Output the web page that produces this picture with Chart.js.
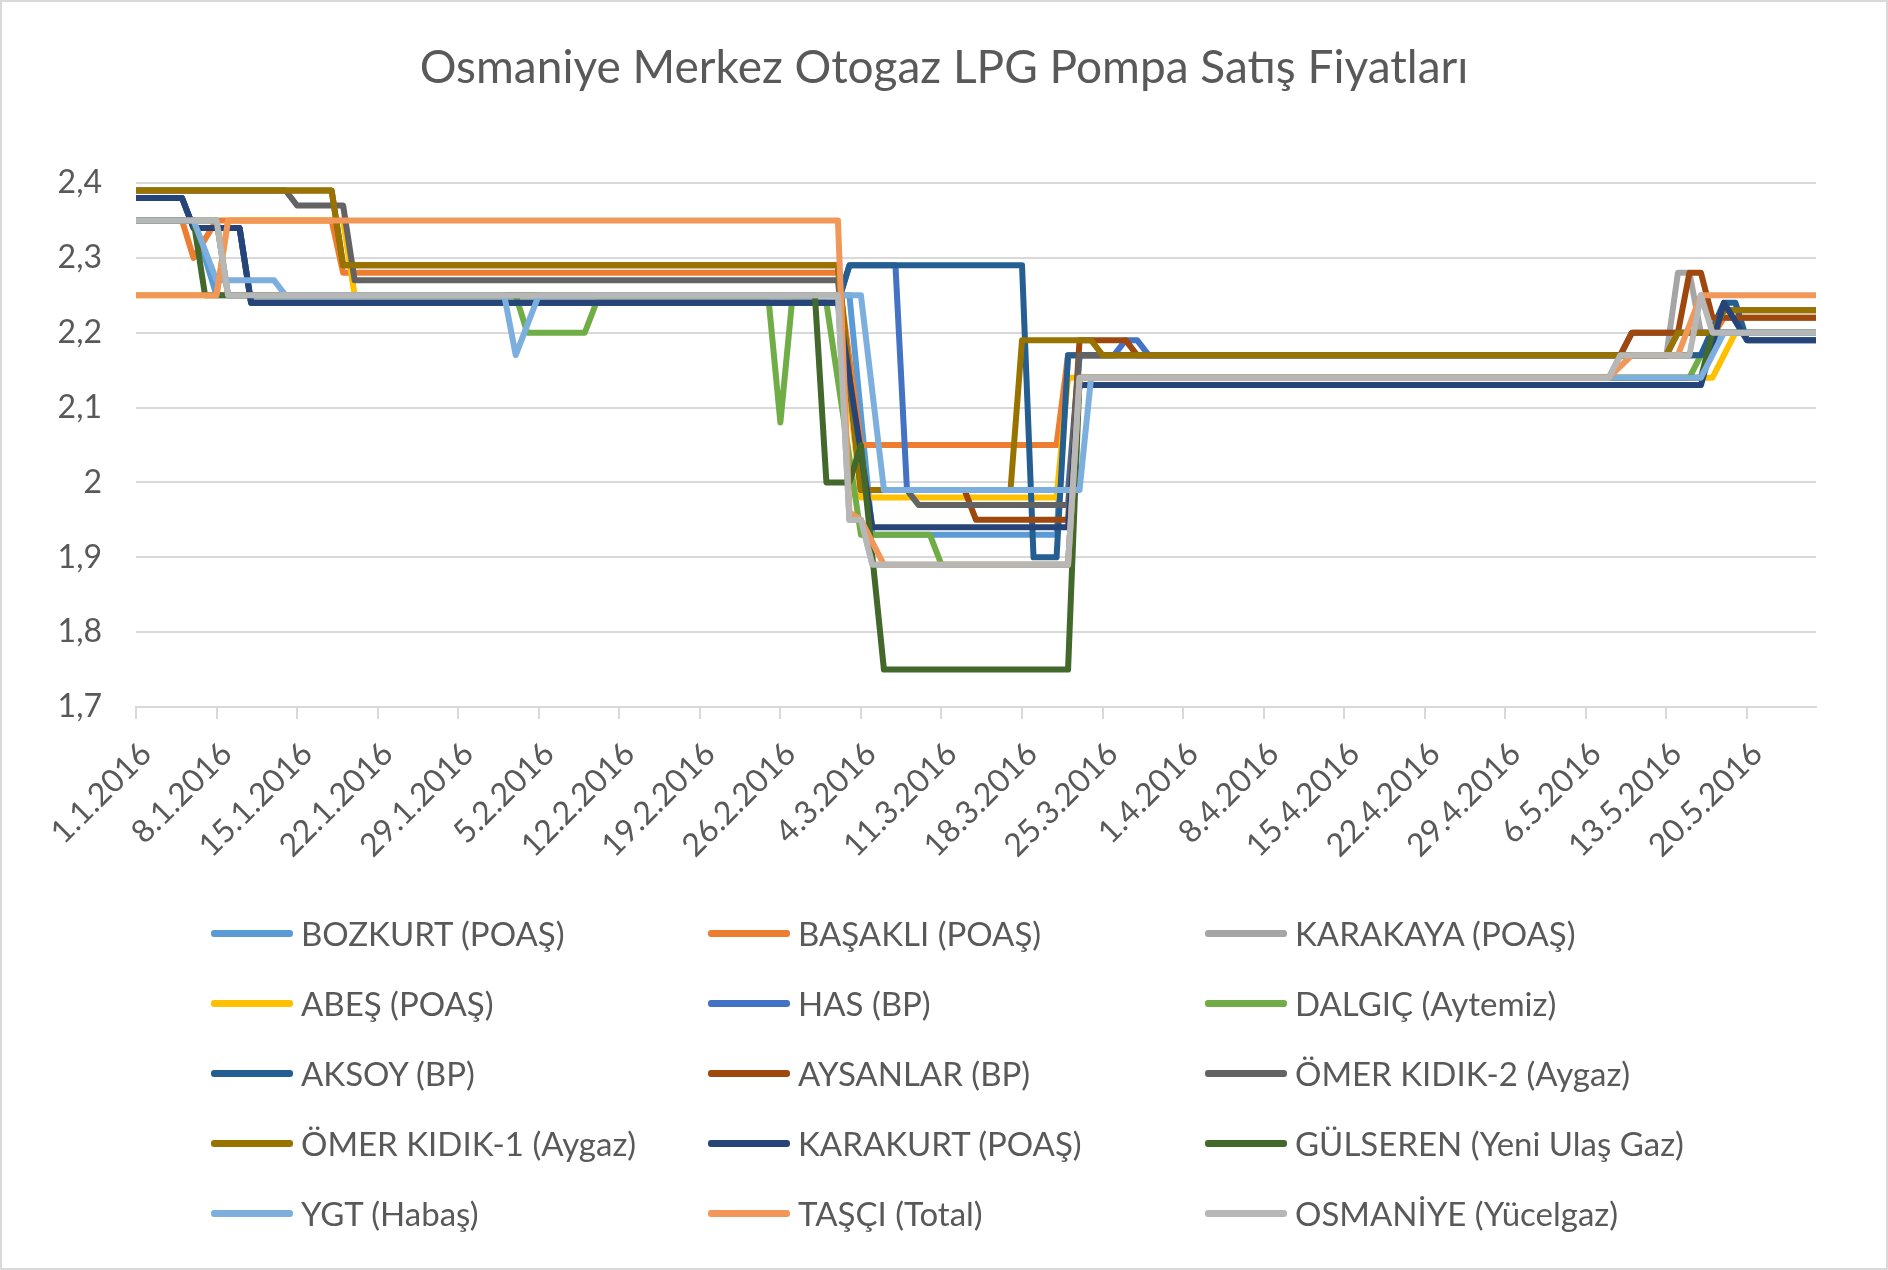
<!DOCTYPE html>
<html>
<head>
<meta charset="utf-8">
<script src="https://cdn.jsdelivr.net/npm/chart.js@4.4.1/dist/chart.umd.min.js"></script>
<style>
  body { margin: 0; background: #fff; }
  #frame { position: relative; width: 1888px; height: 1270px; box-sizing: border-box; border: 2px solid #d9d9d9; overflow: hidden; }
  #chart { position: absolute; left: -2px; top: -2px; }
  #title { position: absolute; left: 0; width: 1884px; top: 36px; text-align: center;
           font-family: Lato, sans-serif; font-size: 46px; color: #595959; }
  .item { position: absolute; height: 40px; display: flex; align-items: center;
          font-family: Lato, sans-serif; font-size: 33px; color: #595959; white-space: nowrap; }
  .swatch { width: 82px; height: 7px; border-radius: 3px; margin-right: 8px; }
</style>
</head>
<body>
<div id="frame">
  <canvas id="chart" width="1888" height="1270"></canvas>
  <div id="title">Osmaniye Merkez Otogaz LPG Pompa Satış Fiyatları</div>
  <div id="legend"></div>
</div>
<script>
// x = day index from 1.1.2016, y = price (TL)
const dateTicks = ['1.1.2016', '8.1.2016', '15.1.2016', '22.1.2016', '29.1.2016', '5.2.2016', '12.2.2016',
  '19.2.2016', '26.2.2016', '4.3.2016', '11.3.2016', '18.3.2016', '25.3.2016', '1.4.2016', '8.4.2016',
  '15.4.2016', '22.4.2016', '29.4.2016', '6.5.2016', '13.5.2016', '20.5.2016'];
const yTicks = ['1,7', '1,8', '1,9', '2', '2,1', '2,2', '2,3', '2,4'];

const names = ['BOZKURT (POAŞ)', 'BAŞAKLI (POAŞ)', 'KARAKAYA (POAŞ)', 'ABEŞ (POAŞ)', 'HAS (BP)',
  'DALGIÇ (Aytemiz)', 'AKSOY (BP)', 'AYSANLAR (BP)', 'ÖMER KIDIK-2 (Aygaz)', 'ÖMER KIDIK-1 (Aygaz)',
  'KARAKURT (POAŞ)', 'GÜLSEREN (Yeni Ulaş Gaz)', 'YGT (Habaş)', 'TAŞÇI (Total)', 'OSMANİYE (Yücelgaz)'];
const colors = ['#5B9BD5', '#ED7D31', '#A5A5A5', '#FFC000', '#4472C4', '#70AD47', '#255E91', '#9E480E',
  '#636363', '#997300', '#264478', '#43682B', '#7CAFDD', '#F1975A', '#B7B7B7'];

// price changes as [day, price] corners
const bozkurt = [[0,2.35],[5,2.35],[7,2.25],[62,2.25],[64,1.93],[80,1.93],[81,2.17],[136,2.17],[138,2.20],[146,2.20]];
const basakli = [[0,2.35],[4,2.35],[5,2.30],[7,2.35],[17,2.35],[18,2.28],[61,2.28],[63,2.05],[80,2.05],[81,2.17],
  [136,2.17],[138,2.22],[146,2.22]];
const karakaya = [[0,2.35],[7,2.35],[8,2.25],[61,2.25],[62,1.95],[63,1.95],[64,1.89],[81,1.89],[82,2.14],[128,2.14],
  [129,2.17],[133,2.17],[134,2.28],[135,2.28],[136,2.20],[146,2.20]];
const abes = [[0,2.25],[7,2.25],[8,2.35],[18,2.35],[19,2.25],[61,2.25],[63,1.98],[80,1.98],[81,2.14],[137,2.14],
  [139,2.20],[146,2.20]];
const has = [[0,2.38],[4,2.38],[5,2.34],[9,2.34],[10,2.24],[61,2.24],[62,2.29],[66,2.29],[67,1.99],[81,1.99],
  [82,2.17],[85,2.17],[86,2.19],[87,2.19],[88,2.17],[129,2.17],[130,2.20],[146,2.20]];
const dalgic = [[0,2.35],[7,2.35],[8,2.25],[33,2.25],[34,2.20],[39,2.20],[40,2.24],[55,2.24],[56,2.08],[57,2.24],
  [60,2.24],[63,1.93],[69,1.93],[70,1.89],[81,1.89],[82,2.14],[135,2.14],[137,2.20],[146,2.20]];
const aksoy = [[0,2.38],[4,2.38],[5,2.34],[9,2.34],[10,2.24],[61,2.24],[62,2.29],[77,2.29],[78,1.90],[80,1.90],
  [81,2.17],[136,2.17],[138,2.24],[139,2.24],[140,2.19],[146,2.19]];
const aysanlar = [[0,2.39],[17,2.39],[18,2.29],[61,2.29],[63,1.99],[72,1.99],[73,1.95],[81,1.95],[82,2.19],[86,2.19],
  [87,2.17],[129,2.17],[130,2.20],[134,2.20],[135,2.28],[136,2.28],[137,2.22],[146,2.22]];
const kidik2 = [[0,2.39],[13,2.39],[14,2.37],[18,2.37],[19,2.27],[61,2.27],[63,1.99],[67,1.99],[68,1.97],[81,1.97],
  [82,2.17],[133,2.17],[134,2.20],[137,2.20],[138,2.23],[146,2.23]];
const kidik1 = [[0,2.39],[17,2.39],[18,2.29],[61,2.29],[63,1.99],[76,1.99],[77,2.19],[83,2.19],[84,2.17],[133,2.17],
  [134,2.20],[137,2.20],[138,2.23],[146,2.23]];
const karakurt = [[0,2.38],[4,2.38],[5,2.34],[9,2.34],[10,2.24],[61,2.24],[64,1.94],[81,1.94],[82,2.13],[136,2.13],
  [138,2.24],[140,2.19],[146,2.19]];
const gulseren = [[0,2.35],[5,2.35],[6,2.25],[59,2.25],[60,2.00],[62,2.00],[63,2.05],[65,1.75],[81,1.75],[82,2.14],
  [136,2.14],[137,2.20],[146,2.20]];
const ygt = [[0,2.35],[5,2.35],[7,2.27],[12,2.27],[13,2.25],[32,2.25],[33,2.17],[35,2.25],[63,2.25],[65,1.99],
  [82,1.99],[83,2.14],[136,2.14],[138,2.20],[146,2.20]];
const tasci = [[0,2.25],[7,2.25],[8,2.35],[61,2.35],[62,1.96],[63,1.95],[65,1.89],[81,1.89],[82,2.14],[128,2.14],
  [130,2.17],[134,2.17],[136,2.25],[146,2.25]];
const osmaniye = [[0,2.35],[7,2.35],[8,2.25],[61,2.25],[62,1.95],[63,1.95],[64,1.89],[81,1.89],[82,2.14],[128,2.14],
  [129,2.17],[135,2.17],[136,2.25],[137,2.20],[146,2.20]];

const series = [bozkurt, basakli, karakaya, abes, has, dalgic, aksoy, aysanlar, kidik2, kidik1,
  karakurt, gulseren, ygt, tasci, osmaniye];

const datasets = series.map((s, i) => ({
  label: names[i],
  data: s.map(p => ({ x: p[0], y: p[1] })),
  borderColor: colors[i],
  backgroundColor: colors[i],
  borderWidth: 6,
  borderJoinStyle: 'round',
  borderCapStyle: 'round',
  pointRadius: 0,
  tension: 0,
  order: series.length - i // later series drawn on top, like Excel
}));

const tickFont = { family: 'Lato', size: 32 };

new Chart(document.getElementById('chart'), {
  type: 'line',
  data: { datasets: datasets },
  options: {
    responsive: false,
    devicePixelRatio: 1,
    animation: false,
    layout: { padding: { left: 0, right: 72, top: 183, bottom: 383 } },
    plugins: { legend: { display: false }, tooltip: { enabled: false } },
    scales: {
      x: {
        type: 'linear',
        min: 0,
        max: 146,
        afterFit: (scale) => { scale.height = 180; },
        ticks: {
          stepSize: 7,
          includeBounds: false,
          autoSkip: false,
          minRotation: 45,
          maxRotation: 45,
          padding: 16,
          labelOffset: 10,
          color: '#595959',
          font: tickFont,
          callback: (v) => (v % 7 === 0 ? dateTicks[v / 7] : '')
        },
        grid: { drawOnChartArea: false, drawTicks: true, tickLength: 12, color: '#d9d9d9', lineWidth: 2 },
        border: { color: '#d9d9d9', width: 2 }
      },
      y: {
        min: 1.7,
        max: 2.4,
        afterFit: (scale) => { scale.width = 136; },
        ticks: {
          stepSize: 0.1,
          padding: 34,
          color: '#595959',
          font: tickFont,
          callback: (v) => yTicks[Math.round((v - 1.7) * 10)]
        },
        grid: { color: '#d9d9d9', lineWidth: 2, drawTicks: false },
        border: { display: false }
      }
    }
  }
});

// legend in three columns, same order as the series
const legend = document.getElementById('legend');
const colX = [211, 708, 1205];
names.forEach((n, i) => {
  const el = document.createElement('div');
  el.className = 'item';
  el.style.left = (colX[i % 3] - 2) + 'px';
  el.style.top = (911 + 70 * Math.floor(i / 3)) + 'px';
  el.innerHTML = '<div class="swatch" style="background:' + colors[i] + '"></div><span>' + n + '</span>';
  legend.appendChild(el);
});
</script>
</body>
</html>
